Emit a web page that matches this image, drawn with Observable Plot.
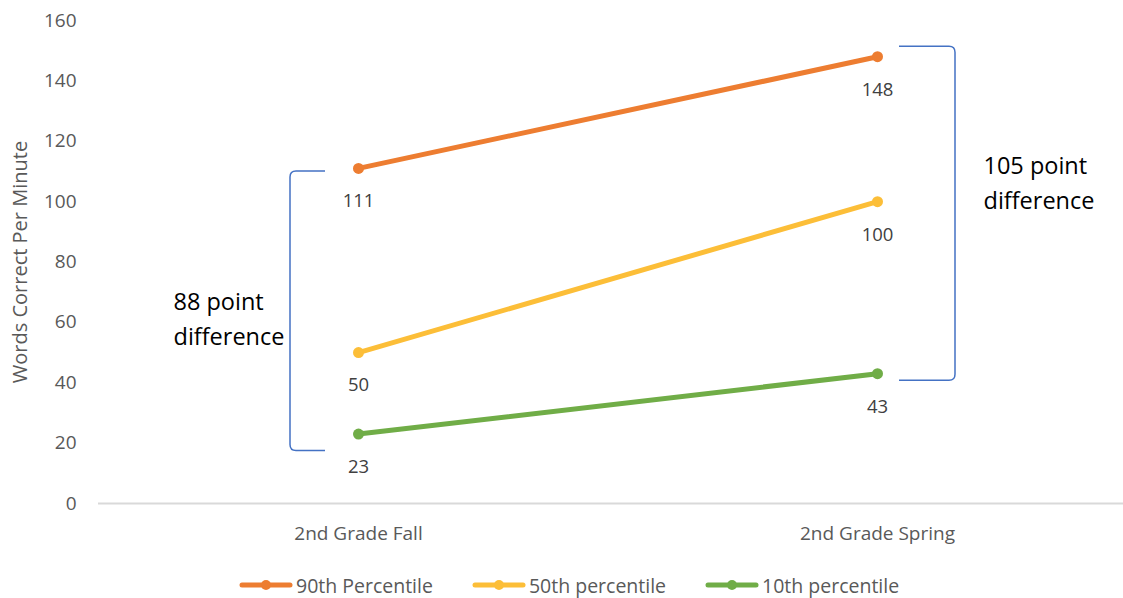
<!DOCTYPE html>
<html>
<head>
<meta charset="utf-8">
<script src="https://cdn.jsdelivr.net/npm/d3@7"></script>
<script src="https://cdn.jsdelivr.net/npm/@observablehq/plot@0.6"></script>
<style>
  body { margin: 0; background: #fff; font-family: "Open Sans", Lato, sans-serif; }
  #legend { display: flex; align-items: center; height: 50px; padding-left: 239px; font-size: 19.5px; color: #595959; }
  .item { display: flex; align-items: center; margin-right: 39px; }
  .item svg { margin-right: 3px; }
</style>
</head>
<body>
<div id="chart"></div>
<div id="legend"></div>
<script>
// Oral reading fluency, 2nd grade: fall vs spring benchmarks
const terms = ["2nd Grade Fall", "2nd Grade Spring"];
const series = ["90th Percentile", "50th percentile", "10th percentile"];
const colors = ["#ED7D31", "#FCBE38", "#70AD47"];
const p90 = [111, 148];
const p50 = [50, 100];
const p10 = [23, 43];
const yTicks = [0, 20, 40, 60, 80, 100, 120, 140, 160];
const yLabel = "Words Correct Per Minute";

const rows = [p90, p50, p10].flatMap((vals, i) =>
  vals.map((v, j) => ({series: series[i], term: terms[j], value: v}))
);

// spread between the top and bottom percentile for each term
const spread = terms.map((t) => {
  const vals = rows.filter((d) => d.term === t).map((d) => d.value);
  const hi = d3.max(vals), lo = d3.min(vals);
  return {term: t, hi, lo, mid: (hi + lo) / 2, text: `${hi - lo} point\ndifference`};
});

const font = "'Open Sans', Lato, sans-serif";

const chart = Plot.plot({
  width: 1123,
  height: 560,
  marginLeft: 98,
  marginRight: 0,
  marginTop: 20,
  marginBottom: 57,
  style: {fontFamily: font, fontSize: "19px", color: "#595959", background: "white"},
  x: {type: "point", domain: terms, padding: 0.5, insetRight: -13, label: null, tickSize: 0, tickPadding: 23},
  y: {domain: [0, 160], ticks: yTicks, label: null, tickSize: 0, tickPadding: 22},
  color: {domain: series, range: colors},
  marks: [
    Plot.ruleY([0], {stroke: "#d9d9d9", strokeWidth: 2}),
    Plot.line(rows, {x: "term", y: "value", z: "series", stroke: "series", strokeWidth: 5}),
    Plot.dot(rows, {x: "term", y: "value", fill: "series", r: 5.5}),
    Plot.text(rows, {x: "term", y: "value", text: (d) => String(d.value), dy: 33, fill: "#404040", fontSize: 18.5}),
    Plot.text([yLabel], {frameAnchor: "left", textAnchor: "middle", rotate: -90, dx: -78, fill: "#595959", fontSize: 20}),
    Plot.text([spread[0]], {x: "term", y: "mid", text: "text", textAnchor: "start", dx: -185, dy: 15.5, fontSize: 23.5, fill: "#000", lineHeight: 1.49}),
    Plot.text([spread[1]], {x: "term", y: "mid", text: "text", textAnchor: "start", dx: 106, dy: -34.5, fontSize: 23.5, fill: "#000", lineHeight: 1.49})
  ]
});

// brackets marking each spread, placed through the chart's scales
const sx = chart.scale("x"), sy = chart.scale("y");
function bracket(xv, xtip, top, bottom, r = 6) {
  const s = Math.sign(xtip - xv);
  return `M${xtip},${top} L${xv + s * r},${top} Q${xv},${top} ${xv},${top + r} ` +
         `L${xv},${bottom - r} Q${xv},${bottom} ${xv + s * r},${bottom} L${xtip},${bottom}`;
}
const xf = sx.apply(terms[0]), xs = sx.apply(terms[1]);
const svg = d3.select(chart);
svg.append("path")
  .attr("d", bracket(xf - 68, xf - 33, sy.apply(spread[0].hi) + 3, sy.apply(spread[0].lo) + 17))
  .attr("fill", "none").attr("stroke", "#4472C4").attr("stroke-width", 1.5);
svg.append("path")
  .attr("d", bracket(xs + 78, xs + 22, sy.apply(spread[1].hi) - 10, sy.apply(spread[1].lo) + 7))
  .attr("fill", "none").attr("stroke", "#4472C4").attr("stroke-width", 1.5);

document.getElementById("chart").append(chart);

// legend
const legend = d3.select("#legend");
series.forEach((s, i) => {
  const item = legend.append("div").attr("class", "item");
  const sw = item.append("svg").attr("width", 54).attr("height", 14);
  sw.append("line").attr("x1", 3).attr("x2", 51).attr("y1", 7).attr("y2", 7)
    .attr("stroke", colors[i]).attr("stroke-width", 5).attr("stroke-linecap", "round");
  sw.append("circle").attr("cx", 27).attr("cy", 7).attr("r", 5).attr("fill", colors[i]);
  item.append("span").text(s);
});
</script>
</body>
</html>
